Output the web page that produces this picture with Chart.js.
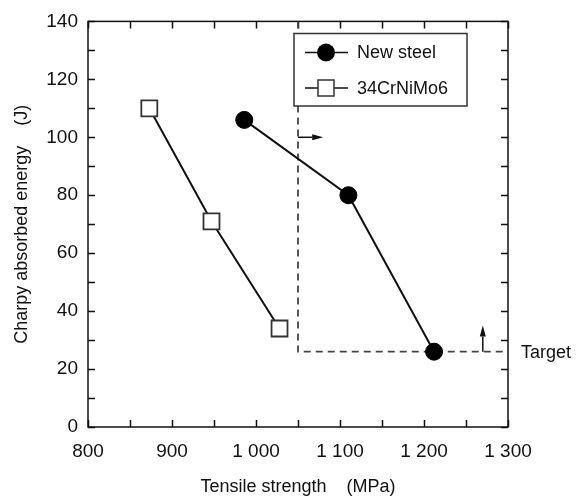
<!DOCTYPE html>
<html><head><meta charset="utf-8">
<script src="https://cdn.jsdelivr.net/npm/chart.js@4"></script>
<style>html,body{margin:0;padding:0;background:#fff}canvas{display:block}</style>
</head><body>
<canvas id="c" width="581" height="498"></canvas>
<script>
// ---- data ----
const seriesNames = ['New steel', '34CrNiMo6'];
const newSteelStrength = [986, 1110, 1212];
const newSteelEnergy = [106, 80, 26];
const refSteelStrength = [873, 947, 1028];
const refSteelEnergy = [110, 71, 34];
const targetStrength = [1050, 1050, 1300];
const targetEnergy = [140, 26, 26];
const xTickValues = [800, 900, 1000, 1100, 1200, 1300];
const yTickValues = [0, 20, 40, 60, 80, 100, 120, 140];
const arrowStart = [[1050, 100], [1270, 26]];
const arrowEnd = [[1080, 100], [1270, 35]];
const targetLabel = 'Target';
const xTitle = 'Tensile strength    (MPa)';
const yTitle = 'Charpy absorbed energy    (J)';

const FONT = '"Liberation Sans", Arial, Helvetica, sans-serif';
const INK = '#111';

function pts(xs, ys) { return xs.map((x, i) => ({x, y: ys[i]})); }
function fmt(v) {
  if (v >= 1000) return Math.floor(v / 1000) + ' ' + String(v % 1000).padStart(3, '0');
  return String(v);
}

const framePlugin = {
  id: 'frame',
  beforeDatasetsDraw(chart) {
    const {ctx, chartArea: a, scales: {x, y}} = chart;
    ctx.save();
    ctx.strokeStyle = INK;
    ctx.lineWidth = 1.5;
    ctx.strokeRect(a.left, a.top, a.right - a.left, a.bottom - a.top);
    const tl = 7;
    ctx.beginPath();
    const xv = [];
    for (let i = 0; i < xTickValues.length; i++) {
      xv.push(xTickValues[i]);
      if (i < xTickValues.length - 1) xv.push((xTickValues[i] + xTickValues[i + 1]) / 2);
    }
    xv.forEach(v => {
      const px = Math.round(x.getPixelForValue(v)) + 0.5;
      ctx.moveTo(px, a.bottom); ctx.lineTo(px, a.bottom - tl);
      ctx.moveTo(px, a.top); ctx.lineTo(px, a.top + tl);
    });
    const yv = [];
    for (let i = 0; i < yTickValues.length; i++) {
      yv.push(yTickValues[i]);
      if (i < yTickValues.length - 1) yv.push((yTickValues[i] + yTickValues[i + 1]) / 2);
    }
    yv.forEach(v => {
      const py = Math.round(y.getPixelForValue(v)) + 0.5;
      ctx.moveTo(a.left, py); ctx.lineTo(a.left + tl, py);
      ctx.moveTo(a.right, py); ctx.lineTo(a.right - tl, py);
    });
    ctx.stroke();
    ctx.restore();
  },
  afterDraw(chart) {
    const {ctx, chartArea: a, scales: {x, y}} = chart;
    ctx.save();
    // arrows
    ctx.strokeStyle = INK; ctx.fillStyle = INK; ctx.lineWidth = 1.5;
    arrowStart.forEach((s, i) => {
      const e = arrowEnd[i];
      const x0 = x.getPixelForValue(s[0]), y0 = y.getPixelForValue(s[1]);
      const x1 = x.getPixelForValue(e[0]), y1 = y.getPixelForValue(e[1]);
      const ang = Math.atan2(y1 - y0, x1 - x0);
      const hl = 11, hw = 3;
      const bx = x1 - hl * Math.cos(ang), by = y1 - hl * Math.sin(ang);
      ctx.beginPath(); ctx.moveTo(x0, y0); ctx.lineTo(bx, by); ctx.stroke();
      ctx.beginPath();
      ctx.moveTo(x1, y1);
      ctx.lineTo(bx + hw * Math.sin(ang), by - hw * Math.cos(ang));
      ctx.lineTo(bx - hw * Math.sin(ang), by + hw * Math.cos(ang));
      ctx.closePath(); ctx.fill();
    });
    // target label
    ctx.font = '18px ' + FONT;
    ctx.textBaseline = 'middle'; ctx.textAlign = 'left';
    ctx.fillText(targetLabel, a.right + 13, y.getPixelForValue(targetEnergy[2]) + 1);
    // legend
    const bx0 = 294, by0 = 33.5, bw = 173, bh = 72.5;
    ctx.fillStyle = '#fff';
    ctx.fillRect(bx0, by0, bw, bh);
    ctx.strokeStyle = '#333'; ctx.lineWidth = 1.5;
    ctx.strokeRect(bx0, by0, bw, bh);
    const rows = [52.5, 88];
    ctx.strokeStyle = INK;
    rows.forEach((ry, i) => {
      ctx.beginPath(); ctx.moveTo(305, ry); ctx.lineTo(348, ry); ctx.lineWidth = 1.5; ctx.stroke();
      if (i === 0) {
        ctx.beginPath(); ctx.arc(326, ry, 9, 0, Math.PI * 2); ctx.fillStyle = '#000'; ctx.fill();
      } else {
        ctx.fillStyle = '#fff'; ctx.fillRect(318, ry - 8, 16, 16);
        ctx.strokeStyle = '#333';
        ctx.strokeRect(318, ry - 8, 16, 16);
      }
      ctx.fillStyle = INK;
      ctx.font = '18px ' + FONT;
      ctx.textBaseline = 'middle';
      ctx.fillText(seriesNames[i], 357, ry + 1);
    });
    ctx.restore();
  }
};

new Chart(document.getElementById('c'), {
  type: 'scatter',
  data: {
    datasets: [
      {
        label: seriesNames[0], data: pts(newSteelStrength, newSteelEnergy),
        showLine: true, borderColor: INK, borderWidth: 2,
        pointStyle: 'circle', pointRadius: 8.5, pointBackgroundColor: '#000',
        pointBorderColor: '#000', pointBorderWidth: 1, order: 1, clip: false
      },
      {
        label: seriesNames[1], data: pts(refSteelStrength, refSteelEnergy),
        showLine: true, borderColor: INK, borderWidth: 2,
        pointStyle: 'rect', pointRadius: 11.3, pointBackgroundColor: '#fff',
        pointBorderColor: '#333', pointBorderWidth: 1.8, order: 2, clip: false
      },
      {
        label: targetLabel, data: pts(targetStrength, targetEnergy),
        showLine: true, borderColor: '#444', borderWidth: 1.8, borderDash: [7, 5],
        pointRadius: 0, order: 10, clip: false
      }
    ]
  },
  options: {
    responsive: false, animation: false, devicePixelRatio: 1,
    layout: {padding: {top: 14, right: 73, left: 0, bottom: 0}},
    plugins: {legend: {display: false}, tooltip: {enabled: false}},
    scales: {
      x: {
        type: 'linear', min: 800, max: 1300,
        afterBuildTicks: s => { s.ticks = xTickValues.map(v => ({value: v})); },
        afterFit: s => { s.height = 71; },
        grid: {display: false, drawTicks: false},
        border: {display: false},
        ticks: {padding: 13, color: INK, font: {family: FONT, size: 19}, callback: v => fmt(v), maxRotation: 0},
        title: {display: true, text: xTitle, color: INK, font: {family: FONT, size: 18, lineHeight: 1.2}, padding: {top: 0, bottom: 0}}
      },
      y: {
        type: 'linear', min: 0, max: 140,
        afterBuildTicks: s => { s.ticks = yTickValues.map(v => ({value: v})); },
        afterFit: s => { s.width = 88; },
        grid: {display: false, drawTicks: false},
        border: {display: false},
        ticks: {padding: 10, color: INK, font: {family: FONT, size: 19}, callback: v => fmt(v)},
        title: {display: true, text: yTitle, color: INK, font: {family: FONT, size: 18, lineHeight: 1.2}, padding: {top: 11, bottom: 0}}
      }
    }
  },
  plugins: [framePlugin]
});
</script>
</body></html>
